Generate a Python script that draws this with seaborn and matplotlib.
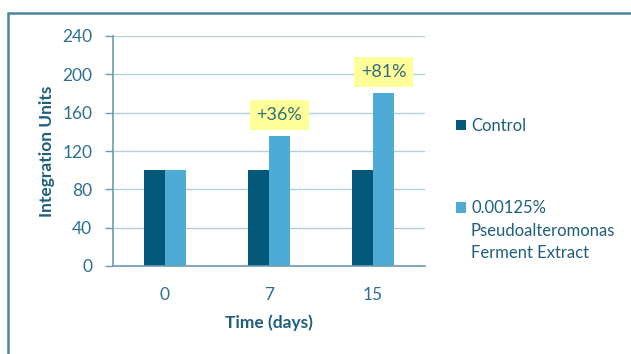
import matplotlib
matplotlib.use("Agg")
import matplotlib.pyplot as plt
import seaborn as sns
import pandas as pd
from matplotlib.lines import Line2D
from matplotlib.patches import Patch

# Data
days = ["0", "7", "15"]
control = [100, 100, 100]
extract = [100, 136, 181]
series_names = ["Control", "0.00125%\nPseudoalteromonas\nFerment Extract"]
y_ticks = [0, 40, 80, 120, 160, 200, 240]

DARK = "#03587a"
LIGHT = "#4dabd6"
TEXT = "#1f5f7e"
TICK_TEXT = "#2e6f8f"
AXIS = "#6b9cb5"
GRID = "#b4cfdc"
FRAME = "#4a86a0"

sns.set_theme(style="white")
plt.rcParams["font.family"] = ["Lato", "DejaVu Sans"]

df = pd.DataFrame({
    "day": days * 2,
    "value": control + extract,
    "series": [series_names[0]] * len(days) + [series_names[1]] * len(days),
})

W, H = 631, 354
fig = plt.figure(figsize=(W / 100, H / 100), dpi=100)
ax = fig.add_axes([113 / W, 1 - 266 / H, 312 / W, 230 / H])

sns.barplot(data=df, x="day", y="value", hue="series", order=days,
            hue_order=series_names, palette=[DARK, LIGHT], width=0.4,
            saturation=1, ax=ax, legend=False, linewidth=0)

ax.set_ylim(0, 240)
ax.set_xlim(-0.5, 2.5)
ax.set_yticks(y_ticks)
ax.set_yticklabels([str(t) for t in y_ticks])
ax.yaxis.grid(True, color=GRID, linewidth=1)
ax.set_axisbelow(True)
for s in ["top", "right"]:
    ax.spines[s].set_visible(False)
for s in ["left", "bottom"]:
    ax.spines[s].set_color(AXIS)
    ax.spines[s].set_linewidth(1.2)
ax.tick_params(axis="y", which="both", left=True, length=6, width=1,
               color=AXIS, pad=9, labelsize=12.5, labelcolor=TICK_TEXT)
ax.tick_params(axis="x", bottom=False, pad=9, labelsize=12.5,
               labelcolor=TICK_TEXT)
ax.set_xlabel("Time (days)", fontsize=12.5, fontweight="bold", color=TEXT,
              labelpad=8)
ax.set_ylabel("Integration Units", fontsize=12.5, fontweight="bold",
              color=TEXT, labelpad=5)

# Percent-change callouts above the treated bars
for i, (c, e) in enumerate(zip(control, extract)):
    if e == c:
        continue
    pct = round((e - c) / c * 100)
    ax.annotate(f"+{pct}%", xy=(i + 0.1, e), xytext=(0, 9),
                textcoords="offset points", ha="center", va="bottom",
                fontsize=13, color="#2f6d78",
                bbox=dict(boxstyle="square,pad=0.38", fc="#ffff99",
                          ec="none"))

# Legend: the handle sits beside the first line of each label
first_lines = [n.split("\n")[0] for n in series_names]
handles = [Patch(facecolor=DARK, edgecolor="none"),
           Patch(facecolor=LIGHT, edgecolor="none")]
leg = fig.legend(handles, first_lines, loc="upper left",
                 bbox_to_anchor=(456 / W, 1 - 118 / H), frameon=False,
                 fontsize=12, handlelength=0.6, handleheight=0.6,
                 handletextpad=0.3, labelspacing=3.97, borderpad=0,
                 borderaxespad=0)
for t in leg.get_texts():
    t.set_color(TEXT)

fig.canvas.draw()
renderer = fig.canvas.get_renderer()
for name, t in zip(series_names, leg.get_texts()):
    bb = t.get_window_extent(renderer)
    for k, line in enumerate(name.split("\n")[1:], start=1):
        fig.text(bb.x0 / W, (bb.y0 - 22.5 * k) / H, line, fontsize=12,
                 color=TEXT, ha="left", va="bottom")

# Outer frame lines (top and left edges)
fig.add_artist(Line2D([8 / W, 1], [1 - 13 / H, 1 - 13 / H],
                      transform=fig.transFigure, color=FRAME, linewidth=1.8))
fig.add_artist(Line2D([8 / W, 8 / W], [0, 1 - 13 / H],
                      transform=fig.transFigure, color=FRAME, linewidth=1.8))

fig.savefig("out.png", dpi=100)
